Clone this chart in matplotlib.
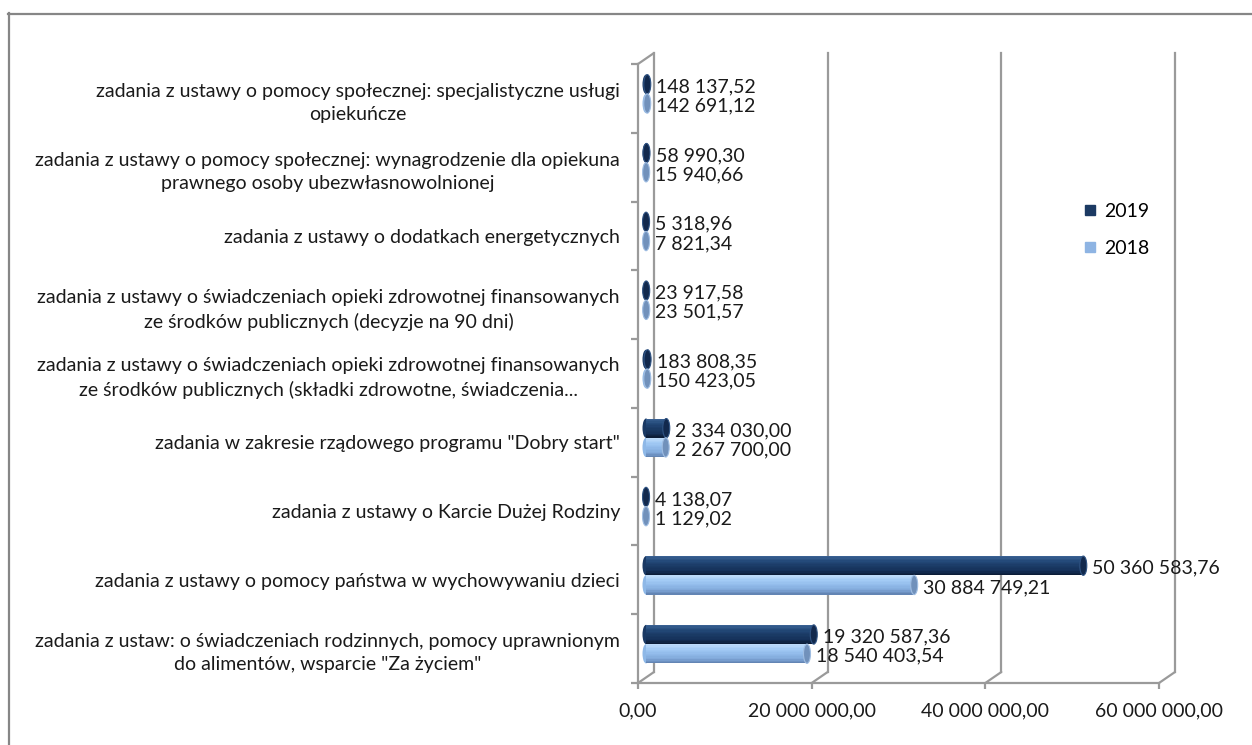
import matplotlib.pyplot as plt
import numpy as np
from matplotlib.patches import Ellipse
from matplotlib.transforms import ScaledTranslation
from matplotlib.lines import Line2D
from matplotlib.colors import LinearSegmentedColormap

plt.rcParams['font.family'] = ['Lato', 'DejaVu Sans']

# categories from top to bottom
categories = [
    "zadania z ustawy o pomocy społecznej: specjalistyczne usługi\nopiekuńcze",
    "zadania z ustawy o pomocy społecznej: wynagrodzenie dla opiekuna\nprawnego osoby ubezwłasnowolnionej",
    "zadania z ustawy o dodatkach energetycznych",
    "zadania z ustawy o świadczeniach opieki zdrowotnej finansowanych\nze środków publicznych (decyzje na 90 dni)",
    "zadania z ustawy o świadczeniach opieki zdrowotnej finansowanych\nze środków publicznych (składki zdrowotne, świadczenia...",
    'zadania w zakresie rządowego programu "Dobry start"',
    "zadania z ustawy o Karcie Dużej Rodziny",
    "zadania z ustawy o pomocy państwa w wychowywaniu dzieci",
    'zadania z ustaw: o świadczeniach rodzinnych, pomocy uprawnionym\ndo alimentów, wsparcie "Za życiem"',
]
v2019 = [148137.52, 58990.30, 5318.96, 23917.58, 183808.35,
         2334030.00, 4138.07, 50360583.76, 19320587.36]
v2018 = [142691.12, 15940.66, 7821.34, 23501.57, 150423.05,
         2267700.00, 1129.02, 30884749.21, 18540403.54]
xticks = [0, 20e6, 40e6, 60e6]
series = ['2019', '2018']


def fmt(v):
    return f"{v:,.2f}".replace(',', ' ').replace('.', ',')


W, H, DPI = 1252, 745, 100
gc = '#9a9a9a'
fs = 14
tc = '#1a1a1a'

fig = plt.figure(figsize=(W / DPI, H / DPI), dpi=DPI)
ax = fig.add_axes([638 / W, 1 - 683 / H, (1159 - 638) / W, (683 - 64) / H])
ax.set_xlim(0, 60e6)
ax.set_ylim(-0.5, 8.5)
for s in ['top', 'right']:
    ax.spines[s].set_visible(False)
for s in ['left', 'bottom']:
    ax.spines[s].set_color(gc)
    ax.spines[s].set_linewidth(1.6)

n = len(categories)
ypos = np.arange(n)[::-1]

# x axis
ax.set_xticks(xticks)
ax.set_xticklabels([fmt(t) for t in xticks], fontsize=fs, color=tc)
ax.tick_params(axis='x', length=4, width=1.6, color=gc, pad=10)

# y axis
ax.set_yticks(ypos)
ax.set_yticklabels(categories, fontsize=fs, color=tc)
for t in ax.get_yticklabels():
    t.set_multialignment('center')
    t.set_linespacing(1.45)
ax.tick_params(axis='y', which='major', length=0, pad=13)
ax.set_yticks(np.arange(-0.5, n), minor=True)
ax.tick_params(axis='y', which='minor', length=5, width=1.6, color=gc)

# back wall (3D depth offset)
ddx, ddy = 16, 11
back = ax.transData + ScaledTranslation(ddx / DPI, ddy / DPI, fig.dpi_scale_trans)
for xv in xticks:
    ax.plot([xv, xv], [-0.5, 8.5], transform=back, color=gc, lw=1.6, clip_on=False, zorder=1)
    ax.annotate('', xy=(xv, -0.5), xytext=(ddx * 0.72, ddy * 0.72), textcoords='offset points',
                arrowprops=dict(arrowstyle='-', color=gc, lw=1.6, shrinkA=0, shrinkB=0),
                annotation_clip=False)
ax.annotate('', xy=(0, 8.5), xytext=(ddx * 0.72, ddy * 0.72), textcoords='offset points',
            arrowprops=dict(arrowstyle='-', color=gc, lw=1.6, shrinkA=0, shrinkB=0),
            annotation_clip=False)

# cylinder bars
bdx, bdy = 8, 4.5
barT = ax.transData + ScaledTranslation(bdx / DPI, bdy / DPI, fig.dpi_scale_trans)
h = 0.28
nstrip = 14
shades = {
    '2019': ['#3d6496', '#244a7a', '#1b3b66', '#15315a', '#0a1a32'],
    '2018': ['#c0dcfa', '#a3cbf5', '#91bbea', '#82aadb', '#5e7fae'],
}
cap_col = {'2019': ('#12294d', '#2f5383'), '2018': ('#7191bb', '#9fbde2')}
legend_col = {'2019': '#1c3a63', '2018': '#8eb4e3'}
fig.canvas.draw()
ppu = ax.transData.transform((0, 1))[1] - ax.transData.transform((0, 0))[1]
cap_w = 7 / DPI
cap_h = h * ppu / DPI

for k, (name, vals) in enumerate(zip(series, [v2019, v2018])):
    cmap = LinearSegmentedColormap.from_list(name, shades[name])
    yc = ypos + (h / 2 if k == 0 else -h / 2)
    # left caps
    for v, y in zip(vals, yc):
        tr = fig.dpi_scale_trans + ScaledTranslation(0, y, ax.transData) + \
            ScaledTranslation(bdx / DPI, bdy / DPI, fig.dpi_scale_trans)
        ax.add_patch(Ellipse((0, 0), cap_w, cap_h, transform=tr, facecolor=cmap(0.55),
                             edgecolor='none', zorder=3, clip_on=False))
    # body strips, top to bottom
    for j in range(nstrip):
        frac = (j + 0.5) / nstrip
        yy = yc + h / 2 - h * frac
        bars = ax.barh(yy, vals, left=0, height=h / nstrip * 1.02, color=cmap(frac),
                       linewidth=0, zorder=4)
        for p in bars.patches:
            p.set_transform(barT)
            p.set_clip_on(False)
    # end caps + value labels
    for v, y in zip(vals, yc):
        tr = fig.dpi_scale_trans + ScaledTranslation(v, y, ax.transData) + \
            ScaledTranslation(bdx / DPI, bdy / DPI, fig.dpi_scale_trans)
        ax.add_patch(Ellipse((0, 0), cap_w, cap_h, transform=tr, facecolor=cap_col[name][0],
                             edgecolor=cap_col[name][1], lw=0.8, zorder=5, clip_on=False))
        ax.annotate(fmt(v), xy=(v, y), xytext=(17 * 0.72, (bdy - 2.5) * 0.72),
                    textcoords='offset points', ha='left', va='center', fontsize=fs,
                    color=tc, annotation_clip=False, zorder=6)

handles = [Line2D([], [], marker='s', ls='none', color=legend_col[s], ms=7) for s in series]
ax.legend(handles, series, loc='center left', bbox_to_anchor=(1061 / W, 1 - 230 / H),
          bbox_transform=fig.transFigure, frameon=False, fontsize=fs,
          labelspacing=1.0, handletextpad=0.1, handlelength=1.2)

# outer chart border
fig.add_artist(Line2D([8.5 / W, 8.5 / W], [0, 1 - 13 / H], color='#868686', lw=1.6))
fig.add_artist(Line2D([8 / W, 1], [1 - 13.5 / H, 1 - 13.5 / H], color='#868686', lw=1.6))

fig.savefig('out.png', dpi=DPI)
